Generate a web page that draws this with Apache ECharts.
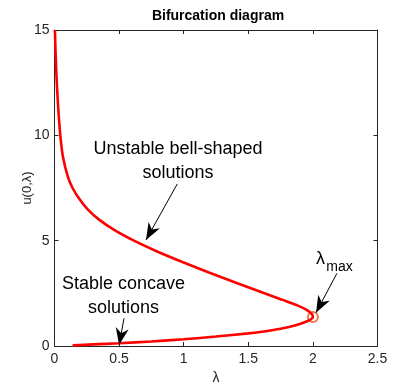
<!DOCTYPE html>
<html><head><meta charset="utf-8">
<script src="https://cdn.jsdelivr.net/npm/echarts@6/dist/echarts.min.js"></script>
<style>html,body{margin:0;padding:0;background:#fff}#c{width:415px;height:390px}</style>
</head><body><div id="c"></div>
<script>
// Lower (stable) branch, increasing lambda
const lambdaLower = [0.14, 0.3, 0.5, 0.75, 1.0, 1.25, 1.5, 1.62, 1.75, 1.875, 1.95, 1.985];
const uLower      = [0.03, 0.075, 0.13, 0.215, 0.32, 0.45, 0.60, 0.69, 0.82, 1.0, 1.16, 1.27];
// Turning point (lambda_max)
const lambdaMax = [2.0, 1.38];
// Upper (unstable) branch, increasing u
const uUpper      = [1.5, 1.7, 1.94, 2.2, 2.5, 3.0, 3.5, 4.0, 4.5, 5.0, 5.5, 6.0, 6.5, 7.0, 7.5, 8.0, 9.0, 10, 11, 12, 13, 14, 15];
const lambdaUpper = [1.993, 1.955, 1.875, 1.76, 1.625, 1.405, 1.19, 0.985, 0.79, 0.615, 0.465, 0.345, 0.255, 0.19, 0.14, 0.105, 0.065, 0.045, 0.032, 0.022, 0.014, 0.008, 0.003];

const xTicks = [0, 0.5, 1, 1.5, 2, 2.5];
const yTicks = [0, 5, 10, 15];

// Annotations (data coordinates)
const arrowUnstable = [[0.95, 7.69], [0.708, 5.03]];
const arrowStable   = [[0.538, 1.31], [0.50, 0.05]];
const arrowMax      = [[2.186, 3.45], [2.024, 1.58]];
const textUnstable = {pos: [0.956, 8.78], text: 'Unstable bell-shaped\nsolutions'};
const textStable   = {pos: [0.534, 2.37], text: 'Stable concave\nsolutions'};
const textLambda   = {pos: [2.059, 4.15], text: 'λ'};
const textMaxSub   = {pos: [2.206, 3.72], text: 'max'};

const curve = [];
lambdaLower.forEach((l, i) => curve.push([l, uLower[i]]));
curve.push(lambdaMax.slice());
lambdaUpper.forEach((l, i) => curve.push([l, uUpper[i]]));

const FONT = '"Liberation Sans", Arial, Helvetica, sans-serif';
const AX = '#262626';
const arrowPath = 'path://M6,17 L12,34 L6,29 L0,34 Z M6,0 L6,0.01';

function arrow(a) {
  return [
    {coord: a[0], symbol: 'none'},
    {coord: a[1], symbol: arrowPath, symbolSize: [13, 34]}
  ];
}
function txt(t, size) {
  return {
    coord: t.pos, symbol: 'circle', symbolSize: 0,
    label: {show: true, position: 'inside', formatter: t.text, fontSize: size,
      fontFamily: FONT, color: '#000', lineHeight: Math.round(size * 1.33), align: 'center', verticalAlign: 'middle'}
  };
}

const chart = echarts.init(document.getElementById('c'), null, {renderer: 'canvas'});
const xMin = xTicks[0], xMax = xTicks[xTicks.length - 1];
const yMin = yTicks[0], yMax = yTicks[yTicks.length - 1];
const axCommon = {
  type: 'value',
  axisLine: {show: true, onZero: false, lineStyle: {color: AX, width: 1}},
  axisTick: {show: true, inside: true, length: 4, lineStyle: {color: AX}},
  splitLine: {show: false}
};
chart.setOption({
  animation: false,
  backgroundColor: '#fff',
  title: {
    text: 'Bifurcation diagram', left: 218, top: 9, textAlign: 'center', padding: 0,
    textStyle: {fontFamily: FONT, fontSize: 14, fontWeight: 'bold', color: '#000'}
  },
  grid: {left: 54.5, right: 37.5, top: 30, bottom: 44, containLabel: false},
  xAxis: [
    Object.assign({}, axCommon, {
      position: 'bottom', min: xMin, max: xMax, interval: xTicks[1] - xTicks[0],
      axisLabel: {show: true, margin: 6, fontSize: 14, fontFamily: FONT, color: AX},
      name: 'λ', nameLocation: 'middle', nameGap: 25, nameMoveOverlap: false,
      nameTextStyle: {fontSize: 14, fontFamily: FONT, color: AX}
    }),
    Object.assign({}, axCommon, {
      position: 'top', min: xMin, max: xMax, interval: xTicks[1] - xTicks[0],
      axisLabel: {show: false}
    })
  ],
  yAxis: [
    Object.assign({}, axCommon, {
      position: 'left', min: yMin, max: yMax, interval: yTicks[1] - yTicks[0],
      axisLabel: {show: true, margin: 5, fontSize: 14, fontFamily: FONT, color: AX},
      name: 'u(0,λ)', nameLocation: 'middle', nameGap: 21, nameMoveOverlap: false,
      nameTextStyle: {fontSize: 13, fontFamily: FONT, color: AX}
    }),
    Object.assign({}, axCommon, {
      position: 'right', min: yMin, max: yMax, interval: yTicks[1] - yTicks[0],
      axisLabel: {show: false}
    })
  ],
  series: [
    {
      type: 'line', data: curve, xAxisIndex: 0, yAxisIndex: 0,
      showSymbol: false, smooth: 0.3, clip: true, silent: true,
      lineStyle: {color: '#ff0000', width: 2.6},
      markLine: {
        silent: true, animation: false,
        lineStyle: {color: '#000', width: 1, type: 'solid'},
        itemStyle: {color: '#000'},
        label: {show: false},
        emphasis: {disabled: true},
        data: [arrow(arrowUnstable), arrow(arrowStable), arrow(arrowMax)]
      },
      markPoint: {
        silent: true, animation: false,
        data: [txt(textUnstable, 18), txt(textStable, 18), txt(textLambda, 18), txt(textMaxSub, 14)]
      }
    },
    {
      type: 'scatter', data: [lambdaMax], symbol: 'emptyCircle', symbolSize: 10, silent: true,
      itemStyle: {color: '#e8561e', borderColor: '#e8561e', borderWidth: 1}
    }
  ]
});
</script></body></html>
